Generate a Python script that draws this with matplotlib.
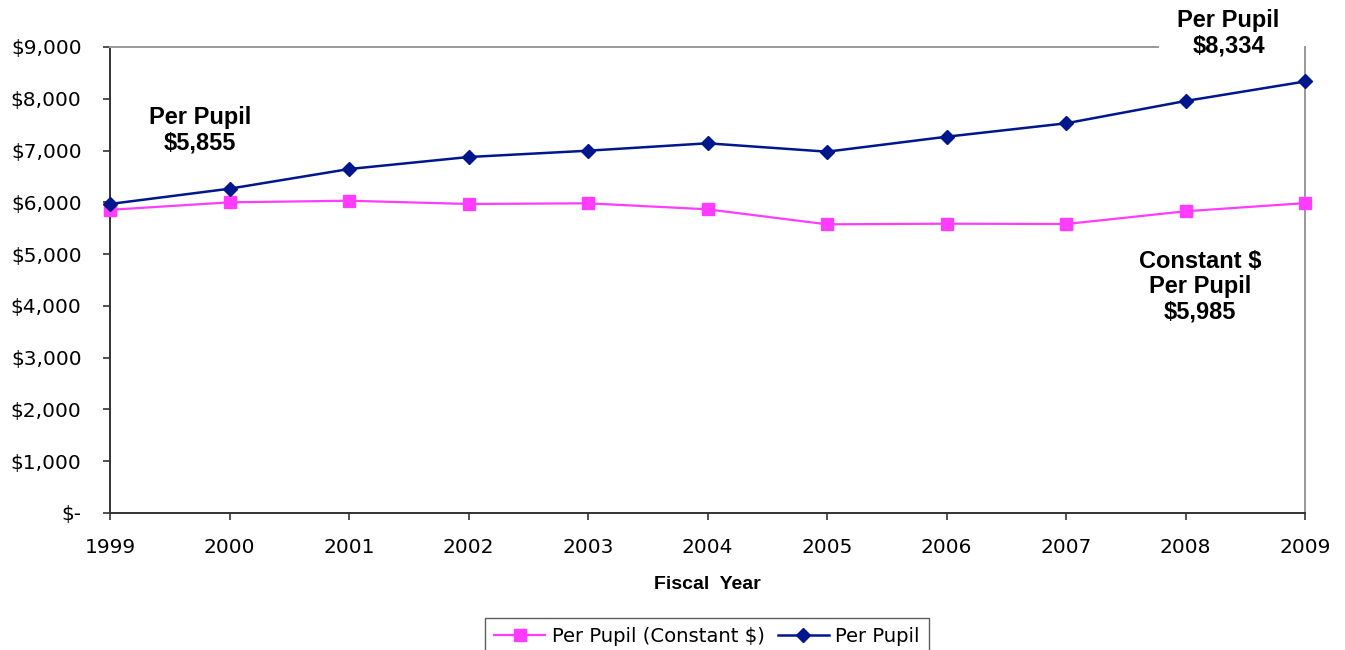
import matplotlib
matplotlib.use("Agg")
import matplotlib.pyplot as plt
from matplotlib.ticker import FuncFormatter

years = [1999, 2000, 2001, 2002, 2003, 2004, 2005, 2006, 2007, 2008, 2009]
per_pupil = [5968, 6263, 6643, 6875, 6997, 7140, 6978, 7267, 7526, 7957, 8334]
per_pupil_constant = [5855, 6000, 6031, 5968, 5981, 5865, 5575, 5587, 5581, 5827, 5985]

y_ticks = [0, 1000, 2000, 3000, 4000, 5000, 6000, 7000, 8000, 9000]

PINK = "#FF3CFF"
NAVY = "#00168C"


def dollars(v, pos):
    if v == 0:
        return "$-"
    return "${:,.0f}".format(v)


fig = plt.figure(figsize=(13.45, 6.5), dpi=100)
ax = fig.add_axes([0.0818, 0.2108, 0.8885, 0.7169])

ax.plot(years, per_pupil_constant, color=PINK, lw=1.6, marker="s", ms=8,
        label="Per Pupil (Constant $)", clip_on=False, zorder=3)
ax.plot(years, per_pupil, color=NAVY, lw=1.8, marker="D", ms=6.8,
        label="Per Pupil", clip_on=False, zorder=4)

ax.set_xlim(years[0], years[-1])
ax.set_ylim(0, 9000)
ax.set_xticks(years)
ax.set_yticks(y_ticks)
ax.yaxis.set_major_formatter(FuncFormatter(dollars))
ax.tick_params(axis="both", labelsize=14.5, length=5, width=1.2, color="#333333",
               direction="out")
ax.tick_params(axis="x", pad=13)
ax.tick_params(axis="y", pad=15.5)

for side in ("left", "bottom"):
    ax.spines[side].set_color("#333333")
    ax.spines[side].set_linewidth(1.4)
for side in ("top", "right"):
    ax.spines[side].set_color("#999999")
    ax.spines[side].set_linewidth(1.4)
# top border stops short of the end label
ax.spines["top"].set_bounds(years[0], 2007.77)

ax.set_xlabel("Fiscal  Year", fontsize=14, fontweight="bold",
              family="Liberation Sans", labelpad=14)

note = dict(fontsize=17, fontweight="bold", family="Liberation Sans",
            ha="center", va="center", linespacing=1.12)
ax.text(1999.75, 7397, "Per Pupil\n\\$5,855", **note)
ax.text(2008.36, 9270, "Per Pupil\n\\$8,334", clip_on=False, **note)
ax.text(2008.12, 4365, "Constant \\$\nPer Pupil\n\\$5,985", **note)

leg = fig.legend(loc="upper center", bbox_to_anchor=(0.5257, 0.0492), ncol=2,
                 fontsize=14.1, frameon=True, fancybox=False, handlelength=2.6,
                 columnspacing=0.65, handletextpad=0.35, borderpad=0.45,
                 borderaxespad=0.0)
leg.get_frame().set_edgecolor("#333333")
leg.get_frame().set_linewidth(1.0)

fig.savefig("out.png", dpi=100)
